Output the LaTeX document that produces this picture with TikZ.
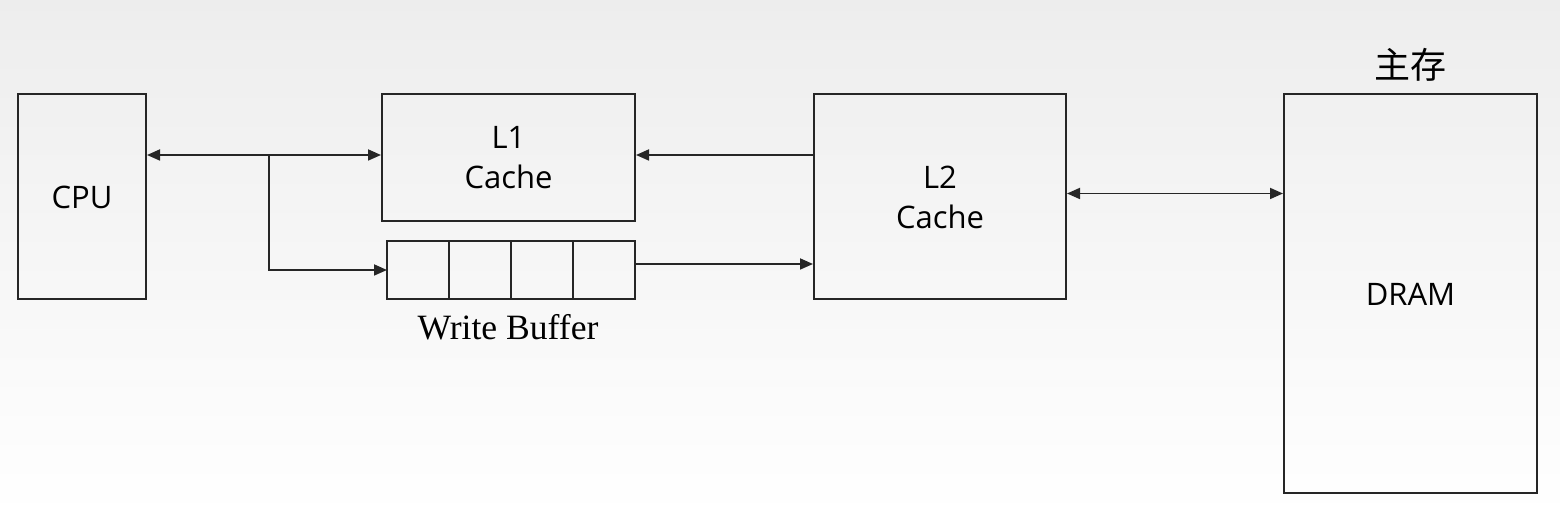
\documentclass[tikz,border=0pt]{standalone}
\usepackage{fontspec}
\setmainfont{Liberation Serif}
\setsansfont{Open Sans}
\newfontfamily\cjkfont{Noto Sans CJK SC}
\usetikzlibrary{arrows.meta,positioning,calc}

\tikzset{
  unit/.style={draw=black!85,line width=1pt,inner sep=0pt,align=center,
    font=\sffamily\fontsize{15.5}{20}\selectfont},
  cell/.style={draw=black!85,line width=1pt,inner sep=0pt,outer sep=0pt,
    minimum width=31pt,minimum height=29pt},
  link/.style={draw=black!85,line width=0.9pt},
  tip/.style={-{Triangle[length=6.5pt,width=5.5pt]}},
  tips/.style={{Triangle[length=6.5pt,width=5.5pt]}-{Triangle[length=6.5pt,width=5.5pt]}}
}

\begin{document}
\begin{tikzpicture}[x=0.5pt,y=-0.5pt]
\shade[top color=gray!14,bottom color=white] (0,0) rectangle (1560,517);
\useasboundingbox (0,0) rectangle (1560,517);

% units
\node[unit,minimum width=64pt,minimum height=102.5pt] (cpu) at (82,197) {CPU};
\node[unit,minimum width=126.5pt,minimum height=63.5pt] (l1) at (508.5,158) {L1\\Cache};
\node[unit,minimum width=126pt,minimum height=102.5pt] (l2) at (940,197) {L2\\Cache};
\node[unit,minimum width=126.5pt,minimum height=199.5pt] (dram) at (1410.5,294) {DRAM};
\node[font=\cjkfont\fontsize{18}{20}\selectfont] (mainmem) at (1410,65) {主存};

% write buffer
\node[cell] (wb1) at (418,270) {};
\foreach \i [count=\j from 2] in {1,2,3}
  \node[cell,right=0pt of wb\i] (wb\j) {};
\node[font=\fontsize{17.8}{20}\selectfont] (wblabel) at (508,327) {Write Buffer};

% connections
\coordinate (split) at (269,155);
\draw[link,tips] (cpu.east |- split) -- (l1.west |- split);
\draw[link,tip] (split) |- (wb1.west);
\draw[link,tip] (l2.west |- split) -- (l1.east |- split);
\draw[link,tip] ($(wb4.east)+(0,-6)$) -- (l2.west |- {$(wb4.east)+(0,-6)$});
\draw[link,tips] ($(l2.east)+(0,-3.5)$) -- (dram.west |- {$(l2.east)+(0,-3.5)$});
\end{tikzpicture}
\end{document}
